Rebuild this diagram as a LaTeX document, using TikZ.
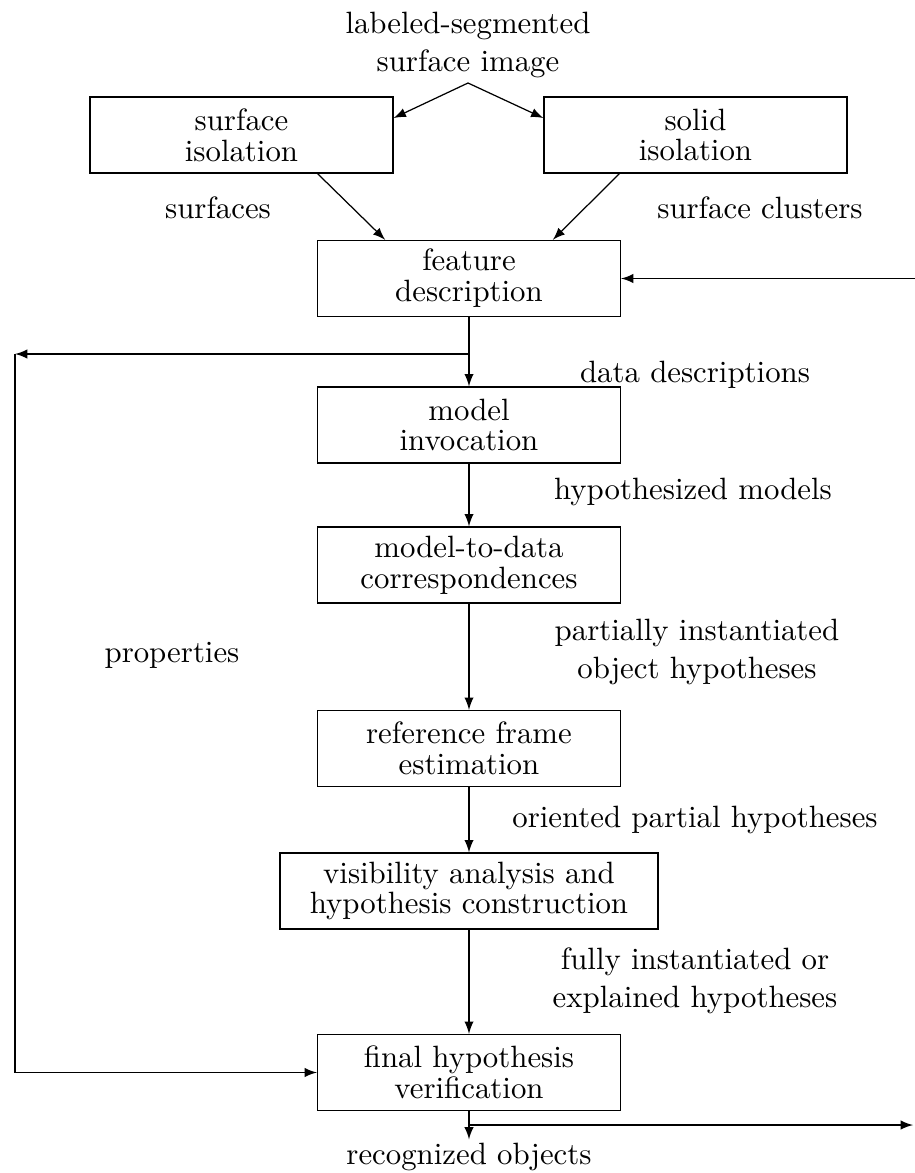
\documentclass[tikz,border=0pt]{standalone}
\usepackage{tikz}
\begin{document}
\begin{tikzpicture}[x=0.3245pt,y=-0.3245pt,>=latex]
	% Text for the labels
	\tikzstyle{every node}=[font=\fontsize{10pt}{12.5pt}\selectfont,align=center]
	% Boxes for the processing stages
	\tikzstyle{stage}=[draw,minimum width=98.3pt,minimum height=24.7pt,inner sep=2pt,font=\fontsize{10pt}{10pt}\selectfont]

	% fix the page size (pixel units, y going down)
	\useasboundingbox (0,0) rectangle (915,1173);

	% the input image
	\node (input) at (468,45) {labeled-segmented\\surface image};
	\coordinate (apex) at (468,83);

	% draw the stages
	\node[stage] (surfiso) at (241.5,135) {surface\\isolation};
	\node[stage] (solidiso) at (695.5,135) {solid\\isolation};
	\node[stage] (featdesc) at (469,278.5) {feature\\description};
	\node[stage] (modelinv) at (469,425) {model\\invocation};
	\node[stage] (corresp) at (469,565) {model-to-data\\correspondences};
	\node[stage] (refframe) at (469,748.5) {reference frame\\estimation};
	\node[stage,minimum width=122.6pt] (visib) at (469,891) {visibility analysis and\\hypothesis construction};
	\node[stage] (verif) at (469,1072.5) {final hypothesis\\verification};
	\node[inner sep=1pt] (recog) at (469,1157) {recognized objects};

	% split the image to the two isolation stages
	\draw[->] (apex) -- ([yshift=5.5pt]surfiso.east);
	\draw[->] (apex) -- ([yshift=5.5pt]solidiso.west);
	\draw[->] ([xshift=24.7pt]surfiso.south) -- ([xshift=-27.2pt]featdesc.north);
	\draw[->] ([xshift=-24.7pt]solidiso.south) -- ([xshift=27.2pt]featdesc.north);

	% outside input into the feature description
	\coordinate (extin) at (915,278.5);
	\draw[->] (extin) -- (featdesc.east);

	% main chain down the middle
	\foreach \from/\to in
	{featdesc/modelinv,
	 modelinv/corresp,
	 corresp/refframe,
	 refframe/visib,
	 visib/verif,
	 verif/recog} {
		\draw[->] (\from) -- (\to);
	}

	% properties go round the left side to the verification
	\coordinate (split) at (469,354);
	\coordinate (leftturn) at (15,354);
	\draw[->] (split) -- (leftturn);
	\draw[->] (leftturn) |- (verif.west);

	% recognized objects leave on the right
	\coordinate (tap) at (469,1125);
	\coordinate (extout) at (913,1125);
	\draw[->] (tap) -- (extout);

	% label the data flowing between stages
	% nm: node name, x/y: position, txt: label
	\foreach \nm/\x/\y/\txt in
	{lsurf/218/208/surfaces,
	 lclust/760/208/surface clusters,
	 ldata/695/375/data descriptions,
	 lhyp/693/492/hypothesized models,
	 lpart/697/652/partially instantiated\\object hypotheses,
	 lorient/695/820/oriented partial hypotheses,
	 lfull/695/981/fully instantiated or\\explained hypotheses,
	 lprop/172/655/properties} {
		\node (\nm) at (\x,\y) {\txt};
	}
\end{tikzpicture}
\end{document}
